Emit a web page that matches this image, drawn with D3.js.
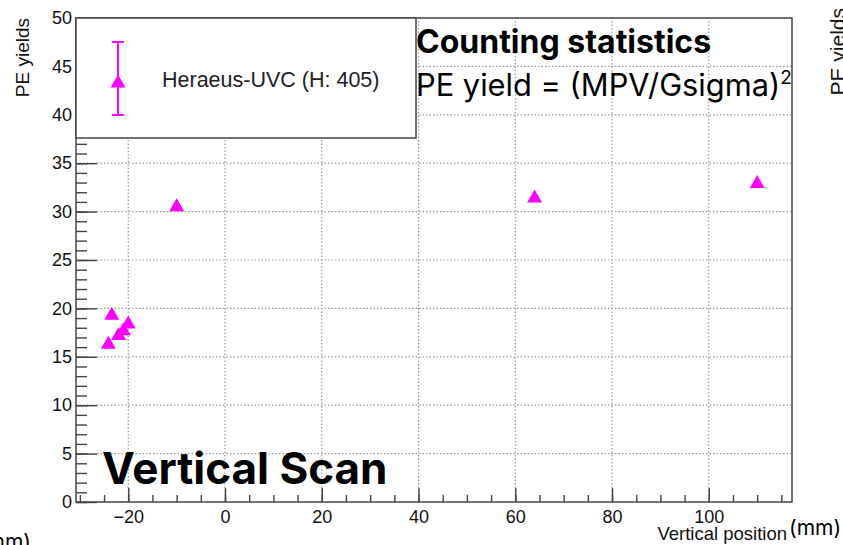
<!DOCTYPE html>
<html>
<head>
<meta charset="utf-8">
<script src="https://cdn.jsdelivr.net/npm/d3@7"></script>
<style>
  body { margin: 0; background: #fff; }
  svg { display: block; }
  .axis text { font-family: "Liberation Sans", Arial, sans-serif; font-size: 18px; fill: #111; }
  .axis line { stroke: #444; stroke-width: 1.4; }
  .grid line { stroke: #999; stroke-width: 1.2; stroke-dasharray: 1.5 2; }
  .rootlabel { font-family: "Liberation Sans", Arial, sans-serif; fill: #111; }
  .note { font-family: Inter, "Noto Sans", sans-serif; fill: #000; }
</style>
</head>
<body>
<svg width="843" height="545"></svg>
<script>
// vertical scan points (mm, PE yield)
var positions = [-24.1, -23.4, -22.0, -21.0, -20.0, -10.0, 64.0, 110.0];
var peYields = [16.5, 19.5, 17.4, 17.9, 18.6, 30.7, 31.6, 33.1];

var xMajorTicks = [-20, 0, 20, 40, 60, 80, 100];
var xMinorTicks = d3.range(-30, 116, 5);
var yMajorTicks = [0, 5, 10, 15, 20, 25, 30, 35, 40, 45, 50];
var yMinorTicks = d3.range(0, 51, 1);

var legendLabel = "Heraeus-UVC (H: 405)";
var magenta = "#ff00ff";

var svg = d3.select("svg"),
    margin = {top: 18, right: 51, bottom: 43, left: 76},
    width = +svg.attr("width") - margin.left - margin.right,
    height = +svg.attr("height") - margin.top - margin.bottom;

var x = d3.scaleLinear()
    .domain([-30.8, 117.2])
    .range([margin.left, margin.left + width]);

var y = d3.scaleLinear()
    .domain([0, 50])
    .range([margin.top + height, margin.top]);

// ROOT style triangle, centred on its bounding box
var rootTriangle = {
  draw: function (ctx, size) {
    var s = Math.sqrt(size), h = s * 0.866;
    ctx.moveTo(0, -h / 2);
    ctx.lineTo(s / 2, h / 2);
    ctx.lineTo(-s / 2, h / 2);
    ctx.closePath();
  }
};
var marker = d3.symbol().type(rootTriangle).size(15 * 15);

// grid
svg.append("g")
    .attr("class", "grid")
    .selectAll("line")
    .data(xMajorTicks)
    .enter().append("line")
      .attr("x1", function (d) { return x(d); })
      .attr("x2", function (d) { return x(d); })
      .attr("y1", y(0))
      .attr("y2", y(50));

svg.append("g")
    .attr("class", "grid")
    .selectAll("line")
    .data(yMajorTicks.slice(1, -1))
    .enter().append("line")
      .attr("x1", x.range()[0])
      .attr("x2", x.range()[1])
      .attr("y1", function (d) { return y(d); })
      .attr("y2", function (d) { return y(d); });

// axes: ticks pointing into the frame
svg.append("g")
    .attr("class", "axis")
    .attr("transform", "translate(0," + y(0) + ")")
    .call(d3.axisBottom(x).tickValues(xMinorTicks).tickSize(-7).tickFormat(""));
svg.append("g")
    .attr("class", "axis")
    .attr("transform", "translate(0," + y(0) + ")")
    .call(d3.axisBottom(x).tickValues(xMajorTicks).tickSize(-14).tickPadding(8)
      .tickFormat(function (d) { return d < 0 ? "\u2212" + Math.abs(d) : d; }));

svg.append("g")
    .attr("class", "axis")
    .attr("transform", "translate(" + x.range()[0] + ",0)")
    .call(d3.axisLeft(y).tickValues(yMinorTicks).tickSize(-11).tickFormat(""));
svg.append("g")
    .attr("class", "axis")
    .attr("transform", "translate(" + x.range()[0] + ",0)")
    .call(d3.axisLeft(y).tickValues(yMajorTicks).tickSize(-21).tickPadding(4));

svg.selectAll(".axis .domain").remove();
svg.selectAll(".axis text").attr("fill", null);

// frame
svg.append("rect")
    .attr("x", x.range()[0])
    .attr("y", y.range()[1])
    .attr("width", width)
    .attr("height", height)
    .attr("fill", "none")
    .attr("stroke", "#444")
    .attr("stroke-width", 1.5);

// legend box
var legend = svg.append("g");
legend.append("rect")
    .attr("x", x.range()[0])
    .attr("y", y.range()[1])
    .attr("width", 340)
    .attr("height", 120)
    .attr("fill", "#fff")
    .attr("stroke", "#444")
    .attr("stroke-width", 1.5);
legend.append("line")
    .attr("x1", 118).attr("x2", 118)
    .attr("y1", 42).attr("y2", 115)
    .attr("stroke", magenta).attr("stroke-width", 2);
legend.selectAll(".cap")
    .data([42, 115])
    .enter().append("line")
      .attr("x1", 112).attr("x2", 124)
      .attr("y1", function (d) { return d; })
      .attr("y2", function (d) { return d; })
      .attr("stroke", magenta).attr("stroke-width", 2);
legend.append("path")
    .attr("d", marker)
    .attr("transform", "translate(118,81)")
    .attr("fill", magenta);
legend.append("text")
    .attr("class", "rootlabel")
    .attr("x", 162)
    .attr("y", 87)
    .style("font-size", "21.5px")
    .style("fill", "#222")
    .text(legendLabel);

// data points
svg.append("g")
    .selectAll("path")
    .data(positions)
    .enter().append("path")
      .attr("d", marker)
      .attr("fill", magenta)
      .attr("transform", function (d, i) { return "translate(" + x(d) + "," + y(peYields[i]) + ")"; });

// axis titles
svg.append("text")
    .attr("class", "rootlabel")
    .attr("text-anchor", "end")
    .attr("transform", "translate(29,18) rotate(-90)")
    .style("font-size", "19px")
    .text("PE yields");

svg.append("text")
    .attr("class", "rootlabel")
    .attr("text-anchor", "end")
    .attr("transform", "translate(845,8) rotate(-90)")
    .style("font-size", "21px")
    .text("PE yields");

svg.append("text")
    .attr("class", "rootlabel")
    .attr("text-anchor", "end")
    .attr("x", 787)
    .attr("y", 540)
    .style("font-size", "18.5px")
    .text("Vertical position");

svg.append("text")
    .attr("class", "note")
    .attr("x", 789)
    .attr("y", 535)
    .style("font-size", "21px")
    .text("(mm)");

svg.append("text")
    .attr("class", "note")
    .attr("text-anchor", "end")
    .attr("x", 31)
    .attr("y", 549)
    .style("font-size", "21px")
    .text("(mm)");

// annotations
svg.append("text")
    .attr("class", "note")
    .attr("x", 416)
    .attr("y", 53)
    .style("font-size", "32px")
    .style("font-weight", "bold")
    .text("Counting statistics");

var formula = svg.append("text")
    .attr("class", "note")
    .attr("x", 416)
    .attr("y", 96)
    .style("font-size", "30.8px");
formula.append("tspan").text("PE yield = (MPV/Gsigma)");
formula.append("tspan").attr("dy", -12).style("font-size", "19px").text("2");

svg.append("text")
    .attr("class", "note")
    .attr("x", 102)
    .attr("y", 484)
    .style("font-size", "44px")
    .style("font-weight", "bold")
    .text("Vertical Scan");
</script>
</body>
</html>
